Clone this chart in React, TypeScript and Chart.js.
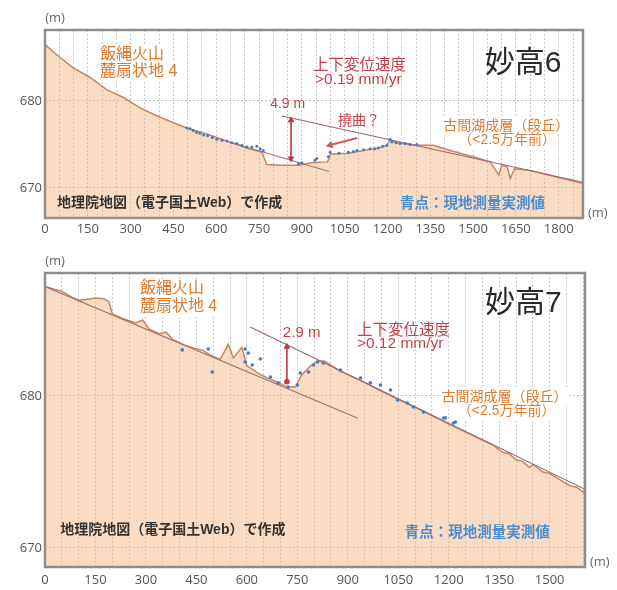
import React, { useEffect, useRef } from "react";
import { Chart, registerables } from "chart.js";
Chart.register(...registerables);

const FONT = '"Liberation Sans", "Noto Sans CJK JP", sans-serif';
const TICK_FONT = '"Open Sans", "Liberation Sans", sans-serif';

// ---------- Panel 1 : 妙高6 ----------
const p1ProfileDist = [0, 6, 53, 99, 158, 216, 275, 333, 391, 450, 497, 567, 637, 707, 760, 777, 830, 888, 930, 990, 1000, 1063, 1116, 1168, 1198, 1209, 1230, 1303, 1360, 1420, 1500, 1560, 1580, 1590, 1600, 1620, 1630, 1645, 1700, 1800, 1885];
const p1ProfileElev = [686.6, 686.3, 685.0, 683.8, 682.7, 681.3, 680.4, 679.2, 678.3, 677.5, 676.9, 676.2, 675.4, 674.6, 674.1, 672.7, 672.6, 672.6, 672.9, 673.0, 673.9, 674.0, 674.3, 674.6, 674.9, 675.6, 675.2, 674.9, 674.9, 674.3, 673.6, 673.0, 672.0, 671.5, 672.6, 672.4, 671.1, 672.2, 672.0, 671.2, 670.5];
const p1DotsDist = [497, 508, 519, 531, 543, 556, 570, 586, 602, 620, 637, 655, 672, 690, 707, 725, 742, 754, 765, 888, 900, 946, 952, 993, 999, 1030, 1063, 1080, 1093, 1116, 1139, 1155, 1168, 1183, 1198, 1209, 1215, 1230, 1244, 1262, 1279, 1303];
const p1DotsElev = [676.9, 676.8, 676.6, 676.4, 676.3, 676.1, 676.0, 675.8, 675.6, 675.5, 675.4, 675.2, 675.1, 674.9, 674.7, 674.7, 674.8, 674.5, 674.3, 672.8, 672.9, 673.2, 673.4, 673.6, 674.1, 674.0, 674.1, 674.2, 674.3, 674.4, 674.5, 674.5, 674.6, 674.8, 674.9, 675.6, 675.3, 675.2, 675.1, 675.1, 675.0, 675.0];
const p1UpperDist = [830, 1885];
const p1UpperElev = [678.28, 670.66];
const p1LowerDist = [640, 995];
const p1LowerElev = [675.35, 671.9];
const p1ArrowDist = [862, 862];
const p1ArrowElev = [677.8, 673.4];
const p1BendDist = [1094, 999];
const p1BendElev = [675.75, 674.94];
const p1XMax = 1885;
const p1YMin = 666.55;
const p1YMax = 688.16;

// ---------- Panel 2 : 妙高7 ----------
const p2ProfileDist = [0, 30, 50, 80, 100, 120, 150, 175, 190, 200, 230, 270, 290, 310, 340, 360, 380, 420, 450, 470, 490, 520, 545, 560, 585, 600, 640, 680, 720, 745, 760, 790, 810, 830, 880, 950, 1000, 1100, 1200, 1333, 1360, 1380, 1400, 1420, 1440, 1450, 1480, 1500, 1530, 1560, 1580, 1605];
const p2ProfileElev = [687.2, 687.0, 686.9, 686.5, 686.3, 686.35, 686.45, 686.4, 686.2, 685.4, 685.1, 684.8, 685.0, 684.4, 684.1, 684.2, 683.7, 683.3, 683.1, 683.0, 682.7, 682.4, 683.4, 682.5, 683.2, 682.0, 681.4, 681.0, 680.6, 680.6, 681.3, 682.0, 682.3, 682.3, 681.6, 680.9, 680.3, 679.25, 678.15, 676.75, 676.3, 676.2, 675.8, 675.7, 675.3, 675.5, 675.0, 674.9, 674.5, 674.1, 674.0, 673.6];
const p2DotsDist = [408, 485, 497, 595, 604, 595, 640, 616, 670, 693, 723, 750, 759, 783, 798, 810, 827, 878, 938, 967, 997, 1027, 1048, 1077, 1095, 1125, 1185, 1190, 1214, 1220];
const p2DotsElev = [683.03, 683.09, 681.58, 683.09, 682.83, 682.24, 682.43, 682.04, 681.25, 680.86, 680.59, 680.72, 681.51, 681.58, 682.04, 682.24, 682.17, 681.71, 681.18, 680.86, 680.72, 680.39, 679.74, 679.54, 679.28, 678.95, 678.55, 678.55, 678.22, 678.29];
const p2UpperDist = [610, 1605];
const p2UpperElev = [684.54, 673.86];
const p2LowerDist = [0, 930];
const p2LowerElev = [687.2, 678.54];
const p2ArrowDist = [719, 719];
const p2ArrowElev = [683.24, 680.94];
const p2XMax = 1605;
const p2YMin = 668.75;
const p2YMax = 688.09;

const xTickLabels = [0, 150, 300, 450, 600, 750, 900, 1050, 1200, 1350, 1500, 1650, 1800];
const yTickLabels = [670, 680];

const ORANGE = "#e07a2c";
const RED = "#c4424c";
const BLUE = "#4a8dd0";
const DARK = "#2a2a2a";

const p1Labels = [
  { text: "飯縄火山", x: 193, y: 685.3, align: "left", size: 16, color: ORANGE, bg: true },
  { text: "麓扇状地 4", x: 193, y: 683.33, align: "left", size: 16, color: ORANGE, bg: true },
  { text: "上下変位速度", x: 939, y: 684.02, align: "left", size: 15.5, color: RED },
  { text: ">0.19 mm/yr", x: 946, y: 682.41, align: "left", size: 15.5, color: RED },
  { text: "妙高6", x: 1675, y: 684.25, align: "center", size: 30, color: DARK },
  { text: "4.9 m", x: 789, y: 679.66, align: "left", size: 14, color: RED },
  { text: "撓曲？", x: 1027, y: 677.7, align: "left", size: 14, color: RED },
  { text: "古間湖成層（段丘）", x: 1616, y: 677.13, align: "center", size: 14, color: ORANGE, bg: true },
  { text: "（<2.5万年前）", x: 1619, y: 675.52, align: "center", size: 14, color: ORANGE, bg: true },
  { text: "地理院地図（電子国土Web）で作成", x: 42, y: 668.28, align: "left", size: 14, weight: "bold", color: "#333" },
  { text: "青点：現地測量実測値", x: 1244, y: 668.2, align: "left", size: 14.5, weight: "bold", color: BLUE },
];

const p2Labels = [
  { text: "飯縄火山", x: 282, y: 687.04, align: "left", size: 16, color: ORANGE, bg: true },
  { text: "麓扇状地 4", x: 282, y: 685.86, align: "left", size: 16, color: ORANGE, bg: true },
  { text: "2.9 m", x: 707, y: 684.14, align: "left", size: 15, color: RED },
  { text: "上下変位速度", x: 927, y: 684.28, align: "left", size: 15.5, color: RED },
  { text: ">0.12 mm/yr", x: 927, y: 683.42, align: "left", size: 15.5, color: RED },
  { text: "妙高7", x: 1422, y: 686.05, align: "center", size: 30, color: DARK },
  { text: "古間湖成層（段丘）", x: 1366, y: 679.93, align: "center", size: 14, color: ORANGE, bg: true },
  { text: "（<2.5万年前）", x: 1372, y: 679.01, align: "center", size: 14, color: ORANGE, bg: true },
  { text: "地理院地図（電子国土Web）で作成", x: 45, y: 671.2, align: "left", size: 14, weight: "bold", color: "#333" },
  { text: "青点：現地測量実測値", x: 1069, y: 671.0, align: "left", size: 14.5, weight: "bold", color: BLUE },
];

const zip = (xs: number[], ys: number[]) => xs.map((x, i) => ({ x, y: ys[i] }));

const overlayPlugin = {
  id: "overlay",
  afterDatasetsDraw(chart: any, _args: any, opts: any) {
    const { ctx, chartArea, scales } = chart;
    const xs = scales.x, ys = scales.y;
    const labels = opts.labels || [];
    ctx.save();
    ctx.textBaseline = "middle";
    for (const a of labels) {
      if (!a.bg) continue;
      ctx.font = `${a.weight || "normal"} ${a.size}px ${FONT}`;
      const w = ctx.measureText(a.text).width;
      const px = xs.getPixelForValue(a.x), py = ys.getPixelForValue(a.y);
      let left = px;
      if (a.align === "center") left = px - w / 2;
      if (a.align === "right") left = px - w;
      ctx.fillStyle = "#ffffff";
      ctx.fillRect(left - 2, py - a.size * 0.62, w + 4, a.size * 1.24);
    }
    for (const a of labels) {
      ctx.font = `${a.weight || "normal"} ${a.size}px ${FONT}`;
      ctx.textAlign = a.align;
      ctx.fillStyle = a.color;
      ctx.fillText(a.text, xs.getPixelForValue(a.x), ys.getPixelForValue(a.y));
    }
    ctx.strokeStyle = "#8e8e8e";
    ctx.lineWidth = 2.5;
    ctx.strokeRect(chartArea.left, chartArea.top, chartArea.right - chartArea.left, chartArea.bottom - chartArea.top);
    ctx.font = `13px ${TICK_FONT}`;
    ctx.fillStyle = "#666";
    ctx.textAlign = "center";
    ctx.fillText("(m)", chartArea.left + 10, chartArea.top - 12);
    ctx.textAlign = "left";
    ctx.fillText("(m)", chartArea.right + 5, chartArea.bottom - 5);
    ctx.restore();
  },
};

type Pt = { x: number; y: number };
type PanelProps = {
  height: number;
  top: number;
  areaTop: number;
  areaBottom: number;
  areaRight: number;
  tickPad: number;
  xMax: number;
  yMin: number;
  yMax: number;
  profile: Pt[];
  dots: Pt[];
  upper: Pt[];
  lower: Pt[];
  arrow: Pt[];
  arrowStyles: string[];
  arrowRot: number[];
  arrowRadius: number[];
  bend?: Pt[];
  labels: any[];
  dotRadius: number;
};

function Panel(p: PanelProps) {
  const ref = useRef<HTMLCanvasElement | null>(null);
  useEffect(() => {
    if (!ref.current) return;
    const W = 617;
    const datasets: any[] = [
      {
        data: p.profile,
        borderColor: "#c98560",
        borderWidth: 1.5,
        backgroundColor: "rgba(244,176,120,0.44)",
        fill: "start",
        pointRadius: 0,
        tension: 0,
        order: 10,
      },
      {
        data: p.upper,
        borderColor: "#9a6670",
        borderWidth: 1.1,
        pointRadius: 0,
        fill: false,
        order: 5,
      },
      {
        data: p.lower,
        borderColor: "#a87078",
        borderWidth: 1.1,
        pointRadius: 0,
        fill: false,
        order: 5,
      },
      {
        data: p.dots,
        showLine: false,
        pointRadius: p.dotRadius,
        pointBackgroundColor: "#3f7fc4",
        pointBorderWidth: 0,
        order: 1,
      },
      {
        data: p.arrow,
        borderColor: "#c0393f",
        borderWidth: 1.6,
        pointStyle: p.arrowStyles,
        pointRotation: p.arrowRot,
        pointRadius: p.arrowRadius,
        pointBackgroundColor: "#c0393f",
        pointBorderColor: "#c0393f",
        pointBorderWidth: 0,
        fill: false,
        order: 0,
      },
    ];
    if (p.bend) {
      datasets.push({
        data: p.bend,
        borderColor: "#d65a5a",
        borderWidth: 2,
        pointStyle: ["circle", "triangle"],
        pointRotation: [0, 255.5],
        pointRadius: [0, 4.5],
        pointBackgroundColor: "#d65a5a",
        pointBorderWidth: 0,
        fill: false,
        order: 0,
      });
    }
    const chart = new Chart(ref.current, {
      type: "line",
      data: { datasets },
      options: {
        animation: false,
        responsive: false,
        maintainAspectRatio: false,
        layout: { padding: { left: 0, top: p.areaTop, right: W - p.areaRight, bottom: 0 } },
        plugins: {
          legend: { display: false },
          tooltip: { enabled: false },
          overlay: { labels: p.labels },
        } as any,
        scales: {
          x: {
            type: "linear",
            min: 0,
            max: p.xMax,
            afterBuildTicks: (s: any) => {
              const t = [];
              for (let v = 0; v <= p.xMax; v += 50) t.push({ value: v });
              s.ticks = t;
            },
            afterFit: (s: any) => {
              s.height = p.height - p.areaBottom;
            },
            ticks: {
              autoSkip: false,
              maxRotation: 0,
              padding: p.tickPad,
              color: "#555",
              font: { family: TICK_FONT, size: 13 },
              callback: (v: any) => (xTickLabels.includes(Number(v)) ? String(v) : ""),
            },
            grid: { color: "rgba(120,120,120,0.4)", lineWidth: 1, drawTicks: false },
            border: { display: false, dash: [2, 2] },
          },
          y: {
            type: "linear",
            min: p.yMin,
            max: p.yMax,
            afterBuildTicks: (s: any) => {
              s.ticks = yTickLabels.map((v) => ({ value: v }));
            },
            afterFit: (s: any) => {
              s.width = 45;
            },
            ticks: {
              padding: 3,
              color: "#555",
              font: { family: TICK_FONT, size: 13 },
              callback: (v: any) => String(v),
            },
            grid: { color: "rgba(120,120,120,0.45)", lineWidth: 1, drawTicks: false },
            border: { display: false, dash: [2, 2] },
          },
        },
      },
      plugins: [overlayPlugin],
    });
    return () => chart.destroy();
  }, []);
  return (
    <canvas
      ref={ref}
      width={617}
      height={p.height}
      style={{ position: "absolute", left: 0, top: p.top, width: 617, height: p.height }}
    />
  );
}

export default function App() {
  return (
    <div style={{ position: "fixed", left: 0, top: 0, width: 617, height: 590, background: "#fff", overflow: "hidden" }}>
      <Panel
        height={245}
        top={0}
        areaTop={30}
        areaBottom={218}
        areaRight={583}
        tickPad={3}
        xMax={p1XMax}
        yMin={p1YMin}
        yMax={p1YMax}
        profile={zip(p1ProfileDist, p1ProfileElev)}
        dots={zip(p1DotsDist, p1DotsElev)}
        upper={zip(p1UpperDist, p1UpperElev)}
        lower={zip(p1LowerDist, p1LowerElev)}
        arrow={zip(p1ArrowDist, p1ArrowElev)}
        arrowStyles={["triangle", "triangle"]}
        arrowRot={[0, 180]}
        arrowRadius={[4, 4]}
        bend={zip(p1BendDist, p1BendElev)}
        labels={p1Labels}
        dotRadius={1.5}
      />
      <Panel
        height={345}
        top={245}
        areaTop={28}
        areaBottom={322}
        areaRight={585}
        tickPad={5}
        xMax={p2XMax}
        yMin={p2YMin}
        yMax={p2YMax}
        profile={zip(p2ProfileDist, p2ProfileElev)}
        dots={zip(p2DotsDist, p2DotsElev)}
        upper={zip(p2UpperDist, p2UpperElev)}
        lower={zip(p2LowerDist, p2LowerElev)}
        arrow={zip(p2ArrowDist, p2ArrowElev)}
        arrowStyles={["triangle", "circle"]}
        arrowRot={[0, 0]}
        arrowRadius={[4, 2.8]}
        labels={p2Labels}
        dotRadius={1.8}
      />
    </div>
  );
}
